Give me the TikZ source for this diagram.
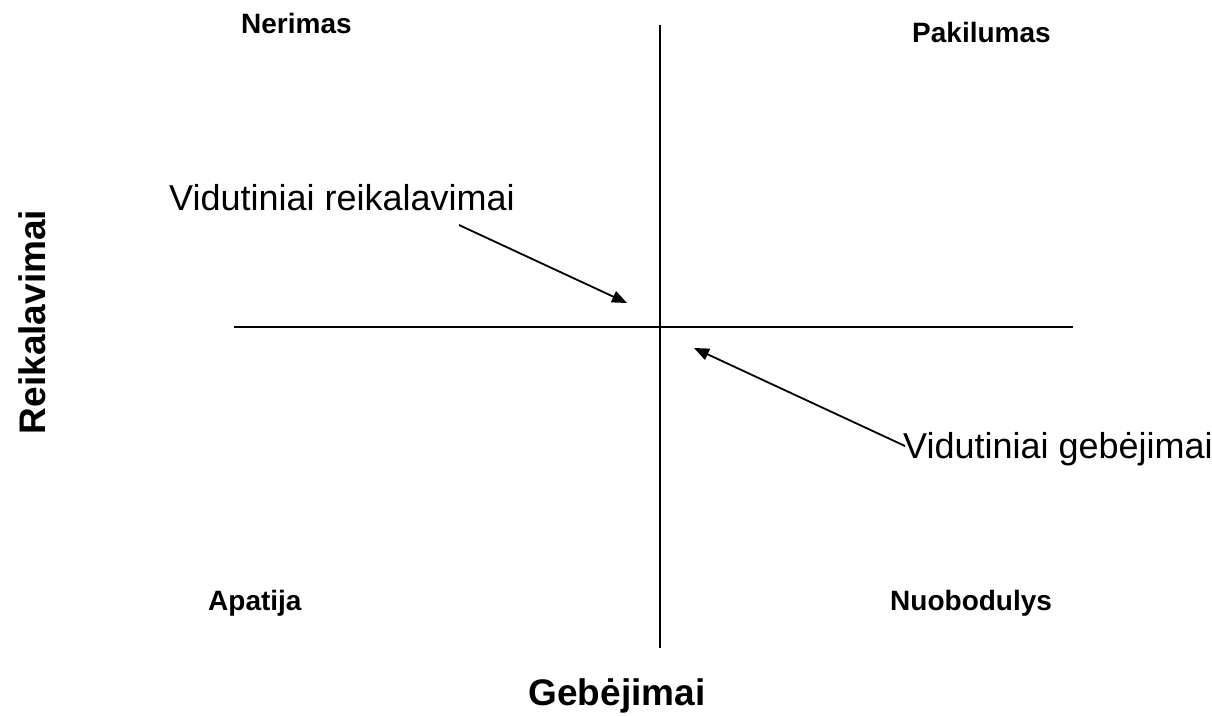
\documentclass[tikz,border=0pt]{standalone}
\usepackage{fontspec}
\setmainfont{Liberation Sans}
\usetikzlibrary{arrows.meta}
\tikzset{
  axis/.style={line width=1.7pt, black},
  pointer/.style={line width=1.8pt, black, -{Triangle[length=15pt,width=12pt]}},
  corner/.style={inner sep=0pt, anchor=base west, font=\fontsize{28}{32}\selectfont\bfseries},
  callout/.style={inner sep=0pt, anchor=base west, font=\fontsize{36}{40}\selectfont},
  axislabel/.style={inner sep=0pt, font=\fontsize{37}{40}\selectfont\bfseries}
}
\begin{document}
\begin{tikzpicture}[x=1pt,y=-1pt]
\useasboundingbox (0,0) rectangle (1212,715);
% axes
\coordinate (vtop) at (660,25);
\coordinate (vbot) at (660,648);
\coordinate (hleft) at (234,327);
\coordinate (hright) at (1073,327);
\draw[axis] (vtop) -- (vbot);
\draw[axis] (hleft) -- (hright);
% quadrant labels
\node[corner] (ner) at (241,33) {Nerimas};
\node[corner] (pak) at (912,42) {Pakilumas};
\node[corner] (apa) at (208,610) {Apatija};
\node[corner] (nuo) at (890,610) {Nuobodulys};
% callouts
\node[callout] (vr) at (169,210) {Vidutiniai reikalavimai};
\node[callout] (vg) at (903,458) {Vidutiniai gebėjimai};
% axis labels
\node[axislabel, anchor=base] (geb) at (617,705) {Gebėjimai};
\node[axislabel, anchor=base, rotate=90] (rei) at (45,322) {Reikalavimai};
% arrows
\coordinate (a1s) at (459,225);
\coordinate (a1e) at (627,303);
\coordinate (a2s) at (905,446);
\coordinate (a2e) at (694,348);
\draw[pointer] (a1s) -- (a1e);
\draw[pointer] (a2s) -- (a2e);
\end{tikzpicture}
\end{document}
